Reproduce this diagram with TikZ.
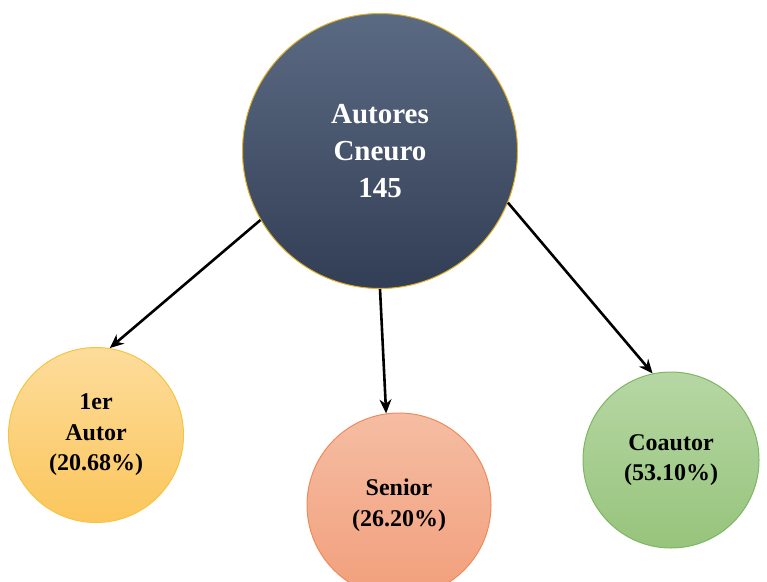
\documentclass[tikz,border=0pt]{standalone}
\usepackage{fontspec}
\setmainfont{Liberation Serif}
\usepackage{xcolor}
\usetikzlibrary{arrows.meta}
\definecolor{navytop}{HTML}{5B6A83}
\definecolor{navybot}{HTML}{323E55}
\definecolor{navyrim}{HTML}{E2B325}
\definecolor{yeltop}{HTML}{FDDC9B}
\definecolor{yelbot}{HTML}{FBC65C}
\definecolor{yelrim}{HTML}{F6C443}
\definecolor{saltop}{HTML}{F5BDA3}
\definecolor{salbot}{HTML}{F29F7B}
\definecolor{salrim}{HTML}{EE8B5B}
\definecolor{grntop}{HTML}{B6D7A4}
\definecolor{grnbot}{HTML}{97C47C}
\definecolor{grnrim}{HTML}{7DB763}

\begin{document}
\begin{tikzpicture}[x=1pt,y=-1pt]
        \tikzstyle{every node}+=[circle, inner sep=0pt, align=center]
        \tikzstyle{bigtxt}=[font=\bfseries\fontsize{29}{36.7}\selectfont]
        \tikzstyle{smalltxt}=[font=\bfseries\fontsize{24}{30.5}\selectfont]
        \tikzstyle{conn}=[black, line width=2.6pt, -{Stealth[length=14pt,width=12pt]}]
        \useasboundingbox (0,0) rectangle (767,581);
        \node [draw=navyrim, line width=1pt, top color=navytop, bottom color=navybot, minimum size=275pt, text=white, bigtxt] (autores) at (380,151) {Autores\\Cneuro\\145};
        \node [draw=yelrim, line width=1pt, top color=yeltop, bottom color=yelbot, minimum size=175pt, smalltxt] (primer) at (96,435) {1er\\Autor\\(20.68\%)};
        \node [draw=salrim, line width=1pt, top color=saltop, bottom color=salbot, minimum size=184pt, smalltxt] (senior) at (399,505) {Senior\\(26.20\%)};
        \node [draw=grnrim, line width=1pt, top color=grntop, bottom color=grnbot, minimum size=176pt, smalltxt] (coautor) at (671,460) {Coautor\\(53.10\%)};
        \draw [conn] (autores.210) -- (primer.81);
        \draw [conn] (autores.270) -- (senior.98);
        \draw [conn] (autores.338) -- (coautor.102);
\end{tikzpicture}
\end{document}
